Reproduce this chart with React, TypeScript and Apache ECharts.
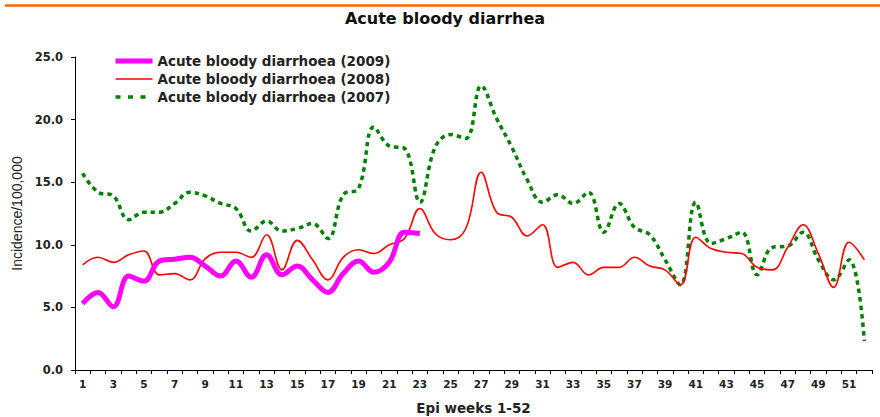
import React, { useEffect, useRef } from "react";
import * as echarts from "echarts";

const weeks: string[] = Array.from({ length: 52 }, (_, i) => String(i + 1));

const y2009: number[] = [
  5.3, 6.2, 5.05, 7.5, 7.1, 8.7, 8.85, 9.0, 8.3, 7.5,
  8.7, 7.4, 9.2, 7.6, 8.3, 7.2, 6.2, 7.7, 8.7, 7.8,
  8.6, 11.0, 10.9,
];

const y2008: number[] = [
  8.4, 9.0, 8.6, 9.2, 9.5, 7.6, 7.7, 7.2, 8.9, 9.4,
  9.4, 9.0, 10.8, 8.0, 10.35, 8.8, 7.2, 9.0, 9.6, 9.3,
  10.0, 10.5, 12.9, 10.9, 10.4, 11.3, 15.8, 12.6, 12.2, 10.7,
  11.6, 8.2, 8.6, 7.6, 8.2, 8.2, 9.0, 8.3, 8.0, 6.8,
  10.6, 9.7, 9.4, 9.3, 8.2, 8.0, 9.8, 11.6, 9.3, 6.6,
  10.2, 8.8,
];

const y2007: number[] = [
  15.7, 14.2, 13.9, 12.0, 12.6, 12.6, 13.3, 14.2, 13.9, 13.3,
  12.9, 11.1, 11.9, 11.1, 11.3, 11.7, 10.5, 14.0, 14.5, 19.4,
  17.9, 17.7, 13.4, 17.8, 18.8, 18.5, 22.7, 20.1, 17.8, 15.2,
  13.4, 14.0, 13.3, 14.2, 11.0, 13.3, 11.4, 10.8, 8.8, 6.8,
  13.4, 10.1, 10.5, 11.0, 7.6, 9.8, 9.9, 11.0, 8.8, 7.2,
  8.8, 2.3,
];

const seriesNames: string[] = [
  "Acute bloody diarrhoea (2009)",
  "Acute bloody diarrhoea (2008)",
  "Acute bloody diarrhoea (2007)",
];

const SANS = "'Liberation Sans', Arial, sans-serif";
const WIDE = "'DejaVu Sans', 'Liberation Sans', sans-serif";

export default function App() {
  const ref = useRef<HTMLDivElement>(null);

  useEffect(() => {
    if (!ref.current) return;
    const chart = echarts.init(ref.current, undefined, { renderer: "svg" });
    chart.setOption({
      animation: false,
      backgroundColor: "#ffffff",
      graphic: [
        {
          type: "line",
          shape: { x1: 5, y1: 5.5, x2: 880, y2: 5.5 },
          style: { stroke: "#ff6600", lineWidth: 2.5 },
          silent: true,
        },
      ],
      title: {
        text: "Acute bloody diarrhea",
        left: 445,
        textAlign: "center",
        top: 10,
        padding: 0,
        textStyle: { fontFamily: WIDE, fontSize: 16, fontWeight: "bold", color: "#111" },
      },
      legend: {
        orient: "vertical",
        left: 113,
        top: 54,
        padding: 0,
        itemWidth: 37,
        itemHeight: 14,
        itemGap: 4,
        itemStyle: { opacity: 0 },
        textStyle: { fontFamily: WIDE, fontSize: 13.5, fontWeight: "bold", color: "#222" },
        data: [
          { name: seriesNames[0], lineStyle: { color: "#ff00ff", width: 5 } },
          { name: seriesNames[1], lineStyle: { color: "#ff0000", width: 1.6 } },
          { name: seriesNames[2], lineStyle: { color: "#008000", width: 3.5, type: [5, 7.5] } },
        ],
      },
      grid: { left: 75, right: 8, top: 57, bottom: 47, containLabel: false, outerBoundsMode: "none" },
      xAxis: {
        type: "category",
        data: weeks,
        boundaryGap: true,
        name: "Epi weeks 1-52",
        nameLocation: "middle",
        nameGap: 31,
        nameTextStyle: { fontFamily: WIDE, fontSize: 13.5, fontWeight: "bold", color: "#222" },
        axisLine: { lineStyle: { color: "#000", width: 1 } },
        axisTick: { show: true, interval: 0, alignWithLabel: false, length: 4, lineStyle: { color: "#000" } },
        axisLabel: {
          interval: 1,
          margin: 8,
          fontFamily: WIDE,
          fontSize: 10.5,
          fontWeight: "bold",
          color: "#222",
        },
        splitLine: { show: false },
      },
      yAxis: {
        type: "value",
        min: 0,
        max: 25,
        interval: 5,
        name: "Incidence/100,000",
        nameLocation: "middle",
        nameGap: 49,
        nameRotate: 90,
        nameTextStyle: { fontFamily: SANS, fontSize: 14, color: "#222" },
        axisLine: { show: true, lineStyle: { color: "#000", width: 1 } },
        axisTick: { show: true, length: 4, lineStyle: { color: "#000" } },
        axisLabel: {
          margin: 12,
          fontFamily: WIDE,
          fontSize: 11.5,
          fontWeight: "bold",
          color: "#222",
          formatter: (v: number) => v.toFixed(1),
        },
        splitLine: { show: false },
      },
      series: [
        {
          name: seriesNames[2],
          type: "line",
          data: y2007,
          smooth: 0.4,
          symbol: "none",
          itemStyle: { color: "#008000" },
          lineStyle: { color: "#008000", width: 3.5, type: [4.5, 4], cap: "butt" },
          z: 1,
        },
        {
          name: seriesNames[1],
          type: "line",
          data: y2008,
          smooth: 0.4,
          symbol: "none",
          itemStyle: { color: "#ff0000" },
          lineStyle: { color: "#ff0000", width: 1.6 },
          z: 2,
        },
        {
          name: seriesNames[0],
          type: "line",
          data: y2009,
          smooth: 0.4,
          symbol: "none",
          itemStyle: { color: "#ff00ff" },
          lineStyle: { color: "#ff00ff", width: 5 },
          z: 3,
        },
      ],
    });
    return () => chart.dispose();
  }, []);

  return <div ref={ref} style={{ width: 880, height: 417, position: "absolute", left: 0, top: 0 }} />;
}
